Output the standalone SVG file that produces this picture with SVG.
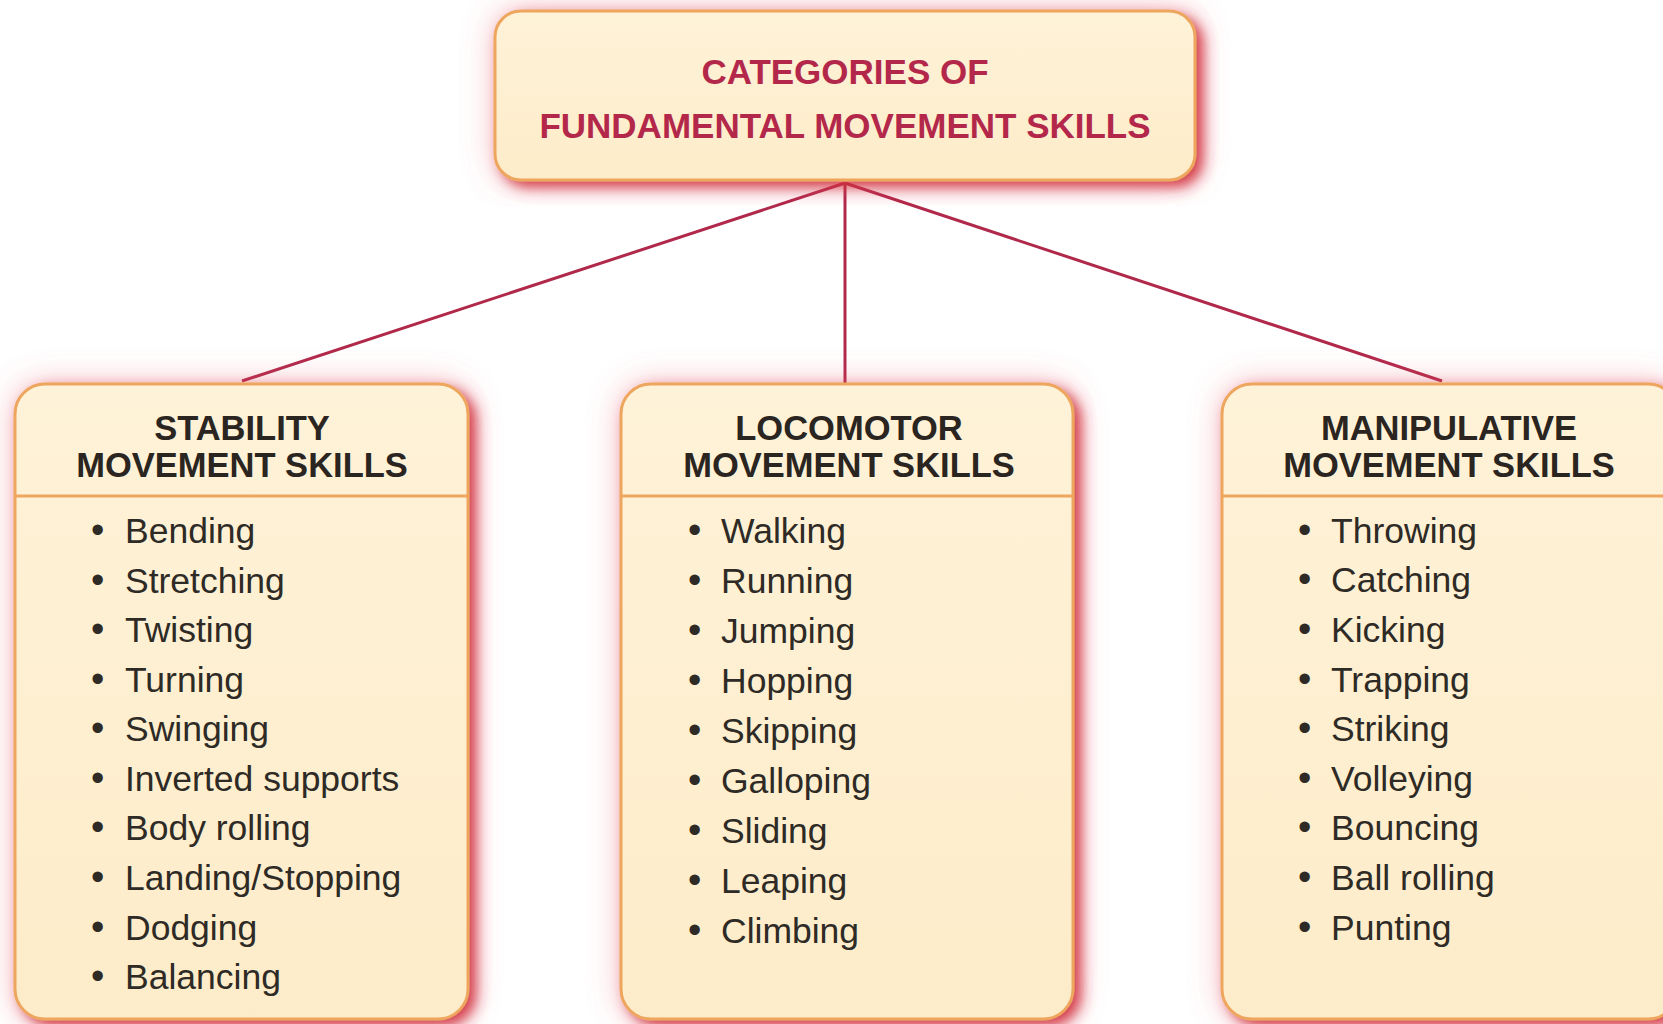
<svg xmlns="http://www.w3.org/2000/svg" width="1663" height="1024" viewBox="0 0 1663 1024">
<defs>
<filter id="glow" x="-10%" y="-10%" width="125%" height="125%">
<feGaussianBlur in="SourceAlpha" stdDeviation="7" result="b"/>
<feOffset in="b" dx="7" dy="6" result="o"/>
<feFlood flood-color="#d02a38" flood-opacity="0.9"/>
<feComposite in2="o" operator="in" result="s"/>
<feGaussianBlur in="SourceAlpha" stdDeviation="16" result="b2"/>
<feFlood flood-color="#e86070" flood-opacity="0.4"/>
<feComposite in2="b2" operator="in" result="s2"/>
<feMerge><feMergeNode in="s2"/><feMergeNode in="s"/><feMergeNode in="SourceGraphic"/></feMerge>
</filter>
<linearGradient id="fill" x1="0" y1="0" x2="0" y2="1">
<stop offset="0" stop-color="#fef2d8"/>
<stop offset="1" stop-color="#fdecc9"/>
</linearGradient>
</defs>
<style>
.box{fill:url(#fill);stroke:#eea65e;stroke-width:3}
.div{stroke:#eea65e;stroke-width:3}
.title{font-family:"Liberation Sans",Arial,sans-serif;font-weight:bold;font-size:35px;fill:#b3284a;text-anchor:middle}
.head{font-family:"Liberation Sans",Arial,sans-serif;font-weight:bold;font-size:34.5px;fill:#2a2520;text-anchor:middle}
.item{font-family:"Liberation Sans",Arial,sans-serif;font-size:35.5px;fill:#2e2a25}
.b{font-size:38px}
.conn{stroke:#b0284a;stroke-width:3;fill:none}
</style>
<rect width="1663" height="1024" fill="#ffffff"/>
<g id="connectors">
<line class="conn" x1="845" y1="183" x2="242" y2="381"/>
<line class="conn" x1="845" y1="183" x2="845" y2="383"/>
<line class="conn" x1="845" y1="183" x2="1442" y2="381"/>
</g>
<g id="root">
<rect class="box" x="495" y="11" width="700" height="169" rx="26" filter="url(#glow)"/>
<text class="title" x="845" y="84">CATEGORIES OF</text>
<text class="title" x="845" y="138">FUNDAMENTAL MOVEMENT SKILLS</text>
</g>
<g id="stability">
<rect class="box" x="15" y="384" width="453" height="635" rx="30" filter="url(#glow)"/>
<line class="div" x1="16" y1="496" x2="467" y2="496"/>
<text class="head" x="242" y="440">STABILITY</text>
<text class="head" x="242" y="477">MOVEMENT SKILLS</text>
<text class="item"><tspan class="b" x="91" y="543">•</tspan><tspan x="125">Bending</tspan></text>
<text class="item"><tspan class="b" x="91" y="593">•</tspan><tspan x="125">Stretching</tspan></text>
<text class="item"><tspan class="b" x="91" y="642">•</tspan><tspan x="125">Twisting</tspan></text>
<text class="item"><tspan class="b" x="91" y="692">•</tspan><tspan x="125">Turning</tspan></text>
<text class="item"><tspan class="b" x="91" y="741">•</tspan><tspan x="125">Swinging</tspan></text>
<text class="item"><tspan class="b" x="91" y="791">•</tspan><tspan x="125">Inverted supports</tspan></text>
<text class="item"><tspan class="b" x="91" y="840">•</tspan><tspan x="125">Body rolling</tspan></text>
<text class="item"><tspan class="b" x="91" y="890">•</tspan><tspan x="125">Landing/Stopping</tspan></text>
<text class="item"><tspan class="b" x="91" y="940">•</tspan><tspan x="125">Dodging</tspan></text>
<text class="item"><tspan class="b" x="91" y="989">•</tspan><tspan x="125">Balancing</tspan></text>
</g>
<g id="locomotor">
<rect class="box" x="621" y="384" width="452" height="635" rx="30" filter="url(#glow)"/>
<line class="div" x1="622" y1="496" x2="1072" y2="496"/>
<text class="head" x="849" y="440">LOCOMOTOR</text>
<text class="head" x="849" y="477">MOVEMENT SKILLS</text>
<text class="item"><tspan class="b" x="688" y="543">•</tspan><tspan x="721">Walking</tspan></text>
<text class="item"><tspan class="b" x="688" y="593">•</tspan><tspan x="721">Running</tspan></text>
<text class="item"><tspan class="b" x="688" y="643">•</tspan><tspan x="721">Jumping</tspan></text>
<text class="item"><tspan class="b" x="688" y="693">•</tspan><tspan x="721">Hopping</tspan></text>
<text class="item"><tspan class="b" x="688" y="743">•</tspan><tspan x="721">Skipping</tspan></text>
<text class="item"><tspan class="b" x="688" y="793">•</tspan><tspan x="721">Galloping</tspan></text>
<text class="item"><tspan class="b" x="688" y="843">•</tspan><tspan x="721">Sliding</tspan></text>
<text class="item"><tspan class="b" x="688" y="893">•</tspan><tspan x="721">Leaping</tspan></text>
<text class="item"><tspan class="b" x="688" y="943">•</tspan><tspan x="721">Climbing</tspan></text>
</g>
<g id="manipulative">
<rect class="box" x="1222" y="384" width="456" height="635" rx="30" filter="url(#glow)"/>
<line class="div" x1="1223" y1="496" x2="1663" y2="496"/>
<text class="head" x="1449" y="440">MANIPULATIVE</text>
<text class="head" x="1449" y="477">MOVEMENT SKILLS</text>
<text class="item"><tspan class="b" x="1298" y="543">•</tspan><tspan x="1331">Throwing</tspan></text>
<text class="item"><tspan class="b" x="1298" y="592">•</tspan><tspan x="1331">Catching</tspan></text>
<text class="item"><tspan class="b" x="1298" y="642">•</tspan><tspan x="1331">Kicking</tspan></text>
<text class="item"><tspan class="b" x="1298" y="692">•</tspan><tspan x="1331">Trapping</tspan></text>
<text class="item"><tspan class="b" x="1298" y="741">•</tspan><tspan x="1331">Striking</tspan></text>
<text class="item"><tspan class="b" x="1298" y="791">•</tspan><tspan x="1331">Volleying</tspan></text>
<text class="item"><tspan class="b" x="1298" y="840">•</tspan><tspan x="1331">Bouncing</tspan></text>
<text class="item"><tspan class="b" x="1298" y="890">•</tspan><tspan x="1331">Ball rolling</tspan></text>
<text class="item"><tspan class="b" x="1298" y="940">•</tspan><tspan x="1331">Punting</tspan></text>
</g>
</svg>
